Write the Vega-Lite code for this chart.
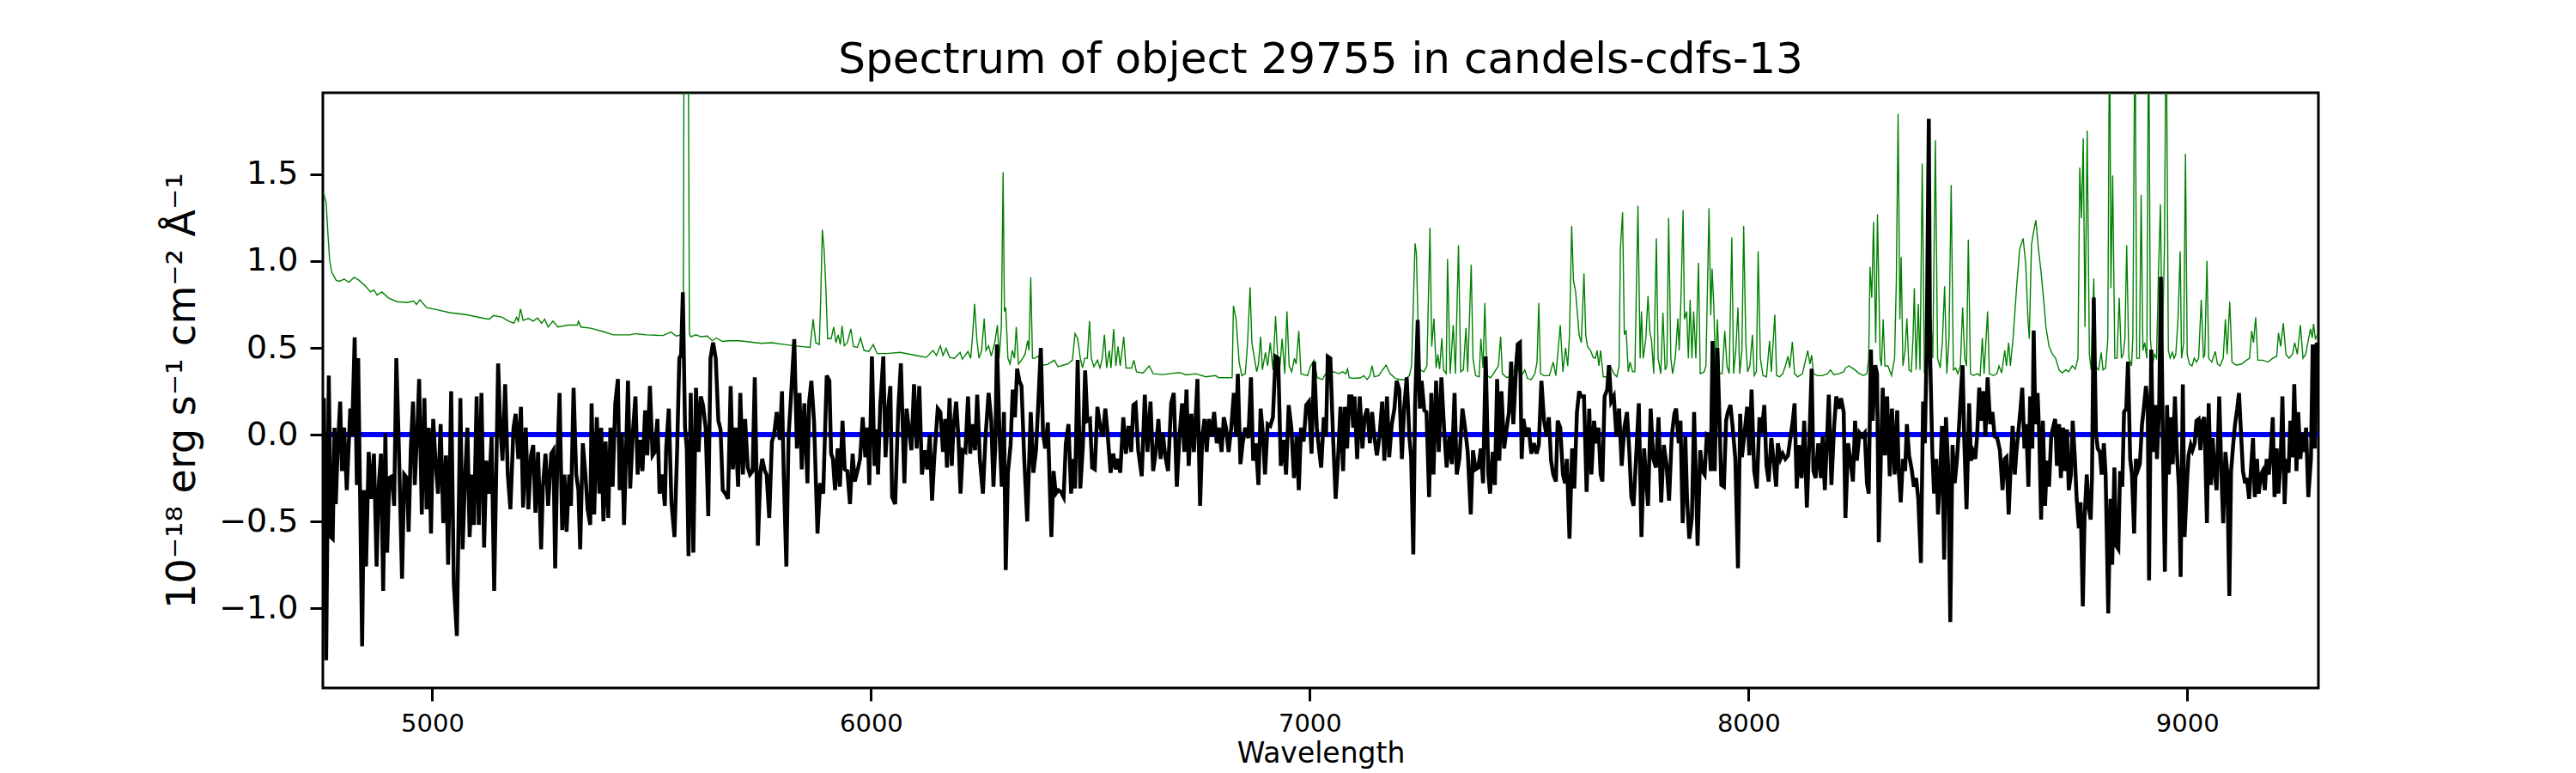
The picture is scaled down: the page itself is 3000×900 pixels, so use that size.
{
  "$schema": "https://vega.github.io/schema/vega-lite/v6.json",
  "width": 2324,
  "height": 693,
  "autosize": {"type": "none"},
  "padding": {"left": 376, "top": 108, "right": 300, "bottom": 99},
  "background": "white",
  "config": {
    "view": {"stroke": "black", "strokeWidth": 3},
    "axis": {"grid": false, "domain": false, "tickColor": "black", "tickWidth": 3, "tickSize": 15, "labelColor": "black", "titleColor": "black", "labelFont": "DejaVu Sans", "titleFont": "DejaVu Sans", "titleFontWeight": "normal"}
  },
  "title": {"text": "Spectrum of object 29755 in candels-cdfs-13", "font": "DejaVu Sans", "fontSize": 50, "fontWeight": "normal", "color": "black", "anchor": "middle", "offset": 13},
  "datasets": {
    "model": [{"wavelength": 4750.5, "value": 0}, {"wavelength": 9299, "value": 0}],
    "noise": [
      {"wavelength":4752,"value":1.393},{"wavelength":4758,"value":1.337},{"wavelength":4762,"value":1.158},{"wavelength":4766,"value":1.001},{"wavelength":4771,"value":0.934},{"wavelength":4781,"value":0.889},{"wavelength":4788,"value":0.884},{"wavelength":4799,"value":0.896},{"wavelength":4810,"value":0.878},{"wavelength":4822,"value":0.907},{"wavelength":4833,"value":0.889},{"wavelength":4848,"value":0.855},{"wavelength":4859,"value":0.822},{"wavelength":4867,"value":0.833},{"wavelength":4874,"value":0.804},{"wavelength":4885,"value":0.822},{"wavelength":4900,"value":0.788},{"wavelength":4919,"value":0.766},{"wavelength":4942,"value":0.761},{"wavelength":4957,"value":0.770},{"wavelength":4964,"value":0.750},{"wavelength":4972,"value":0.777},{"wavelength":4987,"value":0.732},{"wavelength":5009,"value":0.721},{"wavelength":5039,"value":0.703},{"wavelength":5076,"value":0.692},{"wavelength":5114,"value":0.672},{"wavelength":5129,"value":0.665},{"wavelength":5140,"value":0.687},{"wavelength":5159,"value":0.676},{"wavelength":5174,"value":0.654},{"wavelength":5186,"value":0.642},{"wavelength":5192,"value":0.676},{"wavelength":5196,"value":0.654},{"wavelength":5201,"value":0.725},{"wavelength":5207,"value":0.658},{"wavelength":5219,"value":0.669},{"wavelength":5230,"value":0.654},{"wavelength":5240,"value":0.672},{"wavelength":5249,"value":0.642},{"wavelength":5256,"value":0.665},{"wavelength":5264,"value":0.620},{"wavelength":5275,"value":0.654},{"wavelength":5286,"value":0.620},{"wavelength":5309,"value":0.631},{"wavelength":5331,"value":0.631},{"wavelength":5333,"value":0.654},{"wavelength":5339,"value":0.620},{"wavelength":5361,"value":0.613},{"wavelength":5391,"value":0.593},{"wavelength":5413,"value":0.575},{"wavelength":5451,"value":0.575},{"wavelength":5462,"value":0.582},{"wavelength":5488,"value":0.575},{"wavelength":5526,"value":0.571},{"wavelength":5544,"value":0.591},{"wavelength":5556,"value":0.568},{"wavelength":5567,"value":0.575},{"wavelength":5572,"value":0.62},{"wavelength":5574,"value":2.6},{"wavelength":5583,"value":2.6},{"wavelength":5586,"value":0.58},{"wavelength":5589,"value":0.564},{"wavelength":5601,"value":0.575},{"wavelength":5612,"value":0.564},{"wavelength":5627,"value":0.568},{"wavelength":5638,"value":0.541},{"wavelength":5647,"value":0.557},{"wavelength":5661,"value":0.537},{"wavelength":5676,"value":0.541},{"wavelength":5698,"value":0.541},{"wavelength":5713,"value":0.537},{"wavelength":5750,"value":0.526},{"wavelength":5773,"value":0.530},{"wavelength":5803,"value":0.519},{"wavelength":5825,"value":0.512},{"wavelength":5861,"value":0.503},{"wavelength":5868,"value":0.665},{"wavelength":5874,"value":0.530},{"wavelength":5882,"value":0.519},{"wavelength":5885,"value":0.760},{"wavelength":5889,"value":1.180},{"wavelength":5893,"value":1.068},{"wavelength":5897,"value":0.844},{"wavelength":5901,"value":0.553},{"wavelength":5909,"value":0.553},
      {"wavelength":5915,"value":0.620},{"wavelength":5920,"value":0.530},{"wavelength":5925,"value":0.575},{"wavelength":5930,"value":0.519},{"wavelength":5934,"value":0.627},{"wavelength":5939,"value":0.512},{"wavelength":5946,"value":0.530},{"wavelength":5954,"value":0.609},{"wavelength":5960,"value":0.508},{"wavelength":5969,"value":0.503},{"wavelength":5976,"value":0.557},{"wavelength":5984,"value":0.485},{"wavelength":5995,"value":0.479},{"wavelength":6005,"value":0.519},{"wavelength":6014,"value":0.467},{"wavelength":6036,"value":0.467},{"wavelength":6066,"value":0.474},{"wavelength":6089,"value":0.463},{"wavelength":6111,"value":0.452},{"wavelength":6126,"value":0.445},{"wavelength":6141,"value":0.485},{"wavelength":6149,"value":0.456},{"wavelength":6158,"value":0.512},{"wavelength":6164,"value":0.456},{"wavelength":6171,"value":0.497},{"wavelength":6179,"value":0.445},{"wavelength":6190,"value":0.440},{"wavelength":6203,"value":0.474},{"wavelength":6208,"value":0.434},{"wavelength":6221,"value":0.479},{"wavelength":6227,"value":0.440},{"wavelength":6231,"value":0.553},{"wavelength":6236,"value":0.754},{"wavelength":6241,"value":0.553},{"wavelength":6246,"value":0.440},{"wavelength":6252,"value":0.485},{"wavelength":6258,"value":0.669},{"wavelength":6262,"value":0.485},{"wavelength":6268,"value":0.512},{"wavelength":6274,"value":0.452},{"wavelength":6282,"value":0.530},{"wavelength":6288,"value":0.631},{"wavelength":6292,"value":0.440},{"wavelength":6297,"value":0.620},{"wavelength":6301,"value":1.512},{"wavelength":6304,"value":0.710},{"wavelength":6307,"value":0.732},{"wavelength":6312,"value":0.440},{"wavelength":6317,"value":0.407},{"wavelength":6322,"value":0.485},{"wavelength":6327,"value":0.440},{"wavelength":6331,"value":0.620},{"wavelength":6336,"value":0.407},{"wavelength":6343,"value":0.429},{"wavelength":6351,"value":0.463},{"wavelength":6357,"value":0.541},{"wavelength":6360,"value":0.485},{"wavelength":6364,"value":0.907},{"wavelength":6368,"value":0.440},{"wavelength":6373,"value":0.440},{"wavelength":6381,"value":0.452},{"wavelength":6392,"value":0.400},{"wavelength":6403,"value":0.405},{"wavelength":6418,"value":0.429},{"wavelength":6426,"value":0.391},{"wavelength":6448,"value":0.407},{"wavelength":6459,"value":0.429},{"wavelength":6465,"value":0.582},{"wavelength":6471,"value":0.553},{"wavelength":6477,"value":0.440},{"wavelength":6482,"value":0.384},{"wavelength":6487,"value":0.440},{"wavelength":6493,"value":0.440},{"wavelength":6498,"value":0.654},{"wavelength":6502,"value":0.440},{"wavelength":6508,"value":0.391},{"wavelength":6516,"value":0.429},{"wavelength":6522,"value":0.384},{"wavelength":6527,"value":0.440},{"wavelength":6532,"value":0.575},{"wavelength":6537,"value":0.384},{"wavelength":6543,"value":0.485},{"wavelength":6547,"value":0.384},{"wavelength":6553,"value":0.609},{"wavelength":6558,"value":0.396},{"wavelength":6563,"value":0.508},{"wavelength":6568,"value":0.396},{"wavelength":6576,"value":0.564},{"wavelength":6581,"value":0.384},{"wavelength":6594,"value":0.384},{"wavelength":6599,"value":0.429},{"wavelength":6605,"value":0.362},{"wavelength":6620,"value":0.355},{"wavelength":6634,"value":0.396},{"wavelength":6643,"value":0.351},{"wavelength":6665,"value":0.346},{"wavelength":6680,"value":0.351},{"wavelength":6703,"value":0.358},{"wavelength":6718,"value":0.344},{"wavelength":6740,"value":0.351},{"wavelength":6763,"value":0.333},{"wavelength":6785,"value":0.340},{"wavelength":6793,"value":0.328},{"wavelength":6823,"value":0.328},{"wavelength":6826,"value":0.743},{"wavelength":6832,"value":0.665},{"wavelength":6839,"value":0.418},{"wavelength":6845,"value":0.340},{"wavelength":6853,"value":0.351},{"wavelength":6858,"value":0.519},{"wavelength":6864,"value":0.849},{"wavelength":6868,"value":0.530},{"wavelength":6874,"value":0.440},{"wavelength":6879,"value":0.362},{"wavelength":6883,"value":0.407},{"wavelength":6888,"value":0.564},{"wavelength":6892,"value":0.373},{"wavelength":6899,"value":0.474},{"wavelength":6904,"value":0.396},{"wavelength":6910,"value":0.530},{"wavelength":6916,"value":0.373},{"wavelength":6922,"value":0.683},{"wavelength":6928,"value":0.396},{"wavelength":6932,"value":0.396},{"wavelength":6937,"value":0.553},{"wavelength":6943,"value":0.351},{"wavelength":6948,"value":0.710},{"wavelength":6953,"value":0.396},{"wavelength":6959,"value":0.362},{"wavelength":6965,"value":0.440},{"wavelength":6969,"value":0.407},{"wavelength":6975,"value":0.597},{"wavelength":6980,"value":0.351},{"wavelength":6995,"value":0.340},{"wavelength":7002,"value":0.396},{"wavelength":7010,"value":0.429},{"wavelength":7017,"value":0.328},{"wavelength":7029,"value":0.317},{"wavelength":7036,"value":0.351},{"wavelength":7044,"value":0.355},{"wavelength":7055,"value":0.362},{"wavelength":7066,"value":0.351},
      {"wavelength":7075,"value":0.362},{"wavelength":7082,"value":0.351},{"wavelength":7086,"value":0.378},{"wavelength":7090,"value":0.328},{"wavelength":7101,"value":0.324},{"wavelength":7116,"value":0.328},{"wavelength":7123,"value":0.340},{"wavelength":7131,"value":0.317},{"wavelength":7137,"value":0.340},{"wavelength":7142,"value":0.396},{"wavelength":7147,"value":0.333},{"wavelength":7157,"value":0.340},{"wavelength":7165,"value":0.369},{"wavelength":7174,"value":0.400},{"wavelength":7183,"value":0.351},{"wavelength":7195,"value":0.324},{"wavelength":7206,"value":0.317},{"wavelength":7217,"value":0.317},{"wavelength":7227,"value":0.340},{"wavelength":7232,"value":0.396},{"wavelength":7240,"value":1.102},{"wavelength":7243,"value":1.046},{"wavelength":7247,"value":0.620},{"wavelength":7251,"value":0.373},{"wavelength":7260,"value":0.362},{"wavelength":7267,"value":0.396},{"wavelength":7274,"value":1.192},{"wavelength":7278,"value":0.508},{"wavelength":7283,"value":0.669},{"wavelength":7288,"value":0.384},{"wavelength":7292,"value":0.463},{"wavelength":7296,"value":0.378},{"wavelength":7301,"value":0.557},{"wavelength":7305,"value":0.373},{"wavelength":7311,"value":0.351},{"wavelength":7314,"value":1.012},{"wavelength":7320,"value":0.351},{"wavelength":7327,"value":0.631},{"wavelength":7332,"value":0.351},{"wavelength":7339,"value":1.091},{"wavelength":7344,"value":0.362},{"wavelength":7350,"value":0.373},{"wavelength":7356,"value":0.615},{"wavelength":7360,"value":0.362},{"wavelength":7368,"value":0.979},{"wavelength":7372,"value":0.440},{"wavelength":7378,"value":0.340},{"wavelength":7386,"value":0.333},{"wavelength":7390,"value":0.553},{"wavelength":7395,"value":0.384},{"wavelength":7399,"value":0.759},{"wavelength":7404,"value":0.340},{"wavelength":7412,"value":0.328},{"wavelength":7419,"value":0.351},{"wavelength":7424,"value":0.373},{"wavelength":7430,"value":0.396},{"wavelength":7435,"value":0.564},{"wavelength":7439,"value":0.351},{"wavelength":7449,"value":0.328},{"wavelength":7459,"value":0.340},{"wavelength":7466,"value":0.373},{"wavelength":7472,"value":0.519},{"wavelength":7475,"value":0.373},{"wavelength":7483,"value":0.340},{"wavelength":7490,"value":0.373},{"wavelength":7496,"value":0.324},{"wavelength":7505,"value":0.317},{"wavelength":7513,"value":0.351},{"wavelength":7518,"value":0.418},{"wavelength":7522,"value":0.759},{"wavelength":7526,"value":0.351},{"wavelength":7534,"value":0.340},{"wavelength":7546,"value":0.340},{"wavelength":7555,"value":0.418},{"wavelength":7561,"value":0.340},{"wavelength":7571,"value":0.631},{"wavelength":7577,"value":0.362},{"wavelength":7583,"value":0.501},{"wavelength":7588,"value":0.396},{"wavelength":7592,"value":0.575},{"wavelength":7597,"value":1.203},{"wavelength":7601,"value":0.889},{"wavelength":7606,"value":0.822},{"wavelength":7614,"value":0.575},{"wavelength":7619,"value":0.530},{"wavelength":7625,"value":0.929},{"wavelength":7629,"value":0.575},{"wavelength":7633,"value":0.508},{"wavelength":7640,"value":0.485},{"wavelength":7646,"value":0.445},{"wavelength":7651,"value":0.440},{"wavelength":7655,"value":0.485},{"wavelength":7659,"value":0.396},{"wavelength":7663,"value":0.485},{"wavelength":7669,"value":0.333},{"wavelength":7678,"value":0.333},{"wavelength":7685,"value":0.396},{"wavelength":7693,"value":0.351},{"wavelength":7700,"value":0.333},{"wavelength":7705,"value":0.396},{"wavelength":7708,"value":1.068},{"wavelength":7713,"value":1.281},{"wavelength":7717,"value":0.575},{"wavelength":7721,"value":0.602},{"wavelength":7726,"value":0.362},{"wavelength":7730,"value":0.418},{"wavelength":7736,"value":0.362},{"wavelength":7741,"value":0.362},{"wavelength":7748,"value":1.319},{"wavelength":7753,"value":0.440},{"wavelength":7756,"value":0.710},{"wavelength":7760,"value":0.440},{"wavelength":7766,"value":0.553},{"wavelength":7771,"value":0.799},{"wavelength":7775,"value":0.597},{"wavelength":7779,"value":0.541},{"wavelength":7784,"value":0.351},{"wavelength":7790,"value":1.131},{"wavelength":7794,"value":0.440},{"wavelength":7800,"value":0.351},{"wavelength":7805,"value":0.703},{"wavelength":7810,"value":0.373},{"wavelength":7814,"value":0.396},{"wavelength":7818,"value":1.248},{"wavelength":7823,"value":0.440},{"wavelength":7827,"value":0.351},{"wavelength":7833,"value":0.440},{"wavelength":7839,"value":0.669},{"wavelength":7842,"value":0.485},{"wavelength":7846,"value":0.777},{"wavelength":7851,"value":1.293},{"wavelength":7854,"value":0.665},{"wavelength":7859,"value":0.710},{"wavelength":7863,"value":0.440},{"wavelength":7867,"value":0.777},{"wavelength":7871,"value":0.440},{"wavelength":7875,"value":0.710},{"wavelength":7880,"value":0.440},{"wavelength":7886,"value":0.990},{"wavelength":7890,"value":0.351},{"wavelength":7899,"value":0.362},{"wavelength":7903,"value":0.396},{"wavelength":7910,"value":1.304},{"wavelength":7914,"value":0.687},{"wavelength":7917,"value":0.956},{"wavelength":7921,"value":0.743},{"wavelength":7925,"value":0.351},{"wavelength":7929,"value":0.665},{"wavelength":7934,"value":0.351},{"wavelength":7940,"value":0.351},{"wavelength":7946,"value":0.597},{"wavelength":7951,"value":0.396},{"wavelength":7956,"value":0.351},{"wavelength":7962,"value":1.136},{"wavelength":7966,"value":0.351},{"wavelength":7971,"value":0.485},{"wavelength":7976,"value":0.732},{"wavelength":7980,"value":0.351},{"wavelength":7985,"value":0.485},{"wavelength":7989,"value":1.203},{"wavelength":7994,"value":0.519},{"wavelength":7998,"value":0.362},{"wavelength":8003,"value":0.396},{"wavelength":8009,"value":0.575},{"wavelength":8013,"value":0.340},{"wavelength":8018,"value":0.362},{"wavelength":8022,"value":1.057},{"wavelength":8027,"value":0.440},{"wavelength":8033,"value":0.340},{"wavelength":8041,"value":0.333},{"wavelength":8048,"value":0.541},{"wavelength":8052,"value":0.362},{"wavelength":8060,"value":0.692},{"wavelength":8064,"value":0.340},{"wavelength":8071,"value":0.333},{"wavelength":8078,"value":0.351},{"wavelength":8084,"value":0.396},{"wavelength":8090,"value":0.452},{"wavelength":8094,"value":0.384},{"wavelength":8100,"value":0.535},{"wavelength":8105,"value":0.351},{"wavelength":8112,"value":0.333},{"wavelength":8123,"value":0.351},{"wavelength":8135,"value":0.485},{"wavelength":8140,"value":0.407},{"wavelength":8144,"value":0.458},{"wavelength":8148,"value":0.351},{"wavelength":8157,"value":0.340},{"wavelength":8168,"value":0.340},{"wavelength":8180,"value":0.351},{"wavelength":8187,"value":0.373},{"wavelength":8194,"value":0.346},{"wavelength":8206,"value":0.351},{"wavelength":8217,"value":0.362},
      {"wavelength":8221,"value":0.384},{"wavelength":8229,"value":0.396},{"wavelength":8240,"value":0.378},{"wavelength":8251,"value":0.355},{"wavelength":8262,"value":0.340},{"wavelength":8270,"value":0.351},{"wavelength":8274,"value":0.440},{"wavelength":8277,"value":0.967},{"wavelength":8281,"value":0.788},{"wavelength":8285,"value":1.225},{"wavelength":8290,"value":0.530},{"wavelength":8294,"value":1.270},{"wavelength":8300,"value":0.440},{"wavelength":8303,"value":0.396},{"wavelength":8307,"value":0.665},{"wavelength":8311,"value":0.396},{"wavelength":8318,"value":0.396},{"wavelength":8326,"value":0.340},{"wavelength":8333,"value":0.440},{"wavelength":8337,"value":0.889},{"wavelength":8341,"value":1.849},{"wavelength":8345,"value":0.665},{"wavelength":8348,"value":1.023},{"wavelength":8352,"value":0.396},{"wavelength":8357,"value":0.485},{"wavelength":8361,"value":0.669},{"wavelength":8366,"value":0.373},{"wavelength":8371,"value":0.362},{"wavelength":8375,"value":0.553},{"wavelength":8378,"value":0.844},{"wavelength":8382,"value":0.373},{"wavelength":8387,"value":0.754},{"wavelength":8391,"value":0.373},{"wavelength":8396,"value":1.562},{"wavelength":8401,"value":0.351},{"wavelength":8408,"value":0.440},{"wavelength":8416,"value":0.665},{"wavelength":8420,"value":0.440},{"wavelength":8426,"value":1.696},{"wavelength":8431,"value":0.440},{"wavelength":8437,"value":0.384},{"wavelength":8442,"value":0.541},{"wavelength":8447,"value":0.855},{"wavelength":8452,"value":0.351},{"wavelength":8457,"value":0.553},{"wavelength":8462,"value":1.438},{"wavelength":8467,"value":0.373},{"wavelength":8472,"value":0.384},{"wavelength":8477,"value":0.351},{"wavelength":8483,"value":0.396},{"wavelength":8488,"value":0.732},{"wavelength":8493,"value":0.440},{"wavelength":8497,"value":0.396},{"wavelength":8501,"value":1.124},{"wavelength":8506,"value":0.351},{"wavelength":8513,"value":0.340},{"wavelength":8522,"value":0.351},{"wavelength":8528,"value":0.340},{"wavelength":8533,"value":0.557},{"wavelength":8537,"value":0.351},{"wavelength":8545,"value":0.710},{"wavelength":8549,"value":0.351},{"wavelength":8558,"value":0.340},{"wavelength":8566,"value":0.351},{"wavelength":8571,"value":0.396},{"wavelength":8577,"value":0.355},{"wavelength":8584,"value":0.485},{"wavelength":8588,"value":0.396},{"wavelength":8593,"value":0.530},{"wavelength":8597,"value":0.396},{"wavelength":8603,"value":0.553},{"wavelength":8611,"value":0.844},{"wavelength":8618,"value":1.068},{"wavelength":8626,"value":1.131},{"wavelength":8632,"value":0.979},{"wavelength":8637,"value":0.665},{"wavelength":8640,"value":0.553},{"wavelength":8645,"value":1.091},{"wavelength":8649,"value":1.158},{"wavelength":8655,"value":1.236},{"wavelength":8661,"value":1.068},{"wavelength":8667,"value":0.934},{"wavelength":8672,"value":0.799},{"wavelength":8678,"value":0.620},{"wavelength":8685,"value":0.508},{"wavelength":8693,"value":0.463},{"wavelength":8700,"value":0.440},{"wavelength":8708,"value":0.373},{"wavelength":8715,"value":0.355},{"wavelength":8723,"value":0.373},{"wavelength":8730,"value":0.362},{"wavelength":8738,"value":0.396},{"wavelength":8745,"value":0.378},{"wavelength":8751,"value":0.440},{"wavelength":8755,"value":1.539},{"wavelength":8759,"value":1.248},{"wavelength":8763,"value":1.707},{"wavelength":8767,"value":0.620},{"wavelength":8772,"value":1.752},{"wavelength":8777,"value":0.463},{"wavelength":8781,"value":0.373},{"wavelength":8787,"value":0.900},{"wavelength":8790,"value":0.396},{"wavelength":8798,"value":0.373},{"wavelength":8804,"value":0.474},{"wavelength":8808,"value":0.373},{"wavelength":8814,"value":0.384},{"wavelength":8819,"value":0.553},{"wavelength":8823,"value":2.5},{"wavelength":8826,"value":0.844},{"wavelength":8830,"value":1.494},{"wavelength":8835,"value":0.440},{"wavelength":8840,"value":0.440},{"wavelength":8845,"value":0.788},{"wavelength":8850,"value":0.440},{"wavelength":8854,"value":0.463},{"wavelength":8858,"value":0.553},{"wavelength":8862,"value":1.091},{"wavelength":8867,"value":0.440},{"wavelength":8873,"value":0.396},{"wavelength":8876,"value":0.553},{"wavelength":8881,"value":2.5},{"wavelength":8885,"value":0.440},{"wavelength":8891,"value":0.440},{"wavelength":8895,"value":1.382},{"wavelength":8899,"value":0.485},{"wavelength":8903,"value":0.530},{"wavelength":8908,"value":0.440},{"wavelength":8912,"value":2.5},{"wavelength":8916,"value":0.553},{"wavelength":8921,"value":0.396},{"wavelength":8925,"value":0.463},{"wavelength":8930,"value":0.440},{"wavelength":8934,"value":0.889},{"wavelength":8939,"value":1.326},{"wavelength":8943,"value":0.463},{"wavelength":8948,"value":1.068},{"wavelength":8952,"value":2.5},{"wavelength":8957,"value":0.485},{"wavelength":8961,"value":0.440},{"wavelength":8966,"value":0.474},{"wavelength":8970,"value":0.440},{"wavelength":8974,"value":0.463},{"wavelength":8979,"value":0.665},{"wavelength":8984,"value":1.057},{"wavelength":8987,"value":0.440},{"wavelength":8992,"value":0.530},{"wavelength":8996,"value":1.618},{"wavelength":9000,"value":0.463},{"wavelength":9005,"value":0.407},{"wavelength":9011,"value":0.396},{"wavelength":9016,"value":0.440},{"wavelength":9021,"value":0.418},{"wavelength":9026,"value":0.440},{"wavelength":9032,"value":0.777},{"wavelength":9037,"value":0.440},{"wavelength":9040,"value":0.463},{"wavelength":9045,"value":1.001},{"wavelength":9049,"value":0.440},{"wavelength":9056,"value":0.418},{"wavelength":9064,"value":0.479},{"wavelength":9069,"value":0.407},{"wavelength":9075,"value":0.396},{"wavelength":9082,"value":0.440},{"wavelength":9087,"value":0.665},{"wavelength":9091,"value":0.463},{"wavelength":9097,"value":0.766},{"wavelength":9102,"value":0.418},{"wavelength":9112,"value":0.400},{"wavelength":9124,"value":0.407},{"wavelength":9135,"value":0.429},{"wavelength":9142,"value":0.440},{"wavelength":9147,"value":0.597},{"wavelength":9151,"value":0.530},{"wavelength":9156,"value":0.676},{"wavelength":9161,"value":0.429},{"wavelength":9172,"value":0.429},{"wavelength":9184,"value":0.418},{"wavelength":9195,"value":0.440},{"wavelength":9204,"value":0.452},{"wavelength":9208,"value":0.586},{"wavelength":9213,"value":0.508},{"wavelength":9219,"value":0.642},{"wavelength":9225,"value":0.463},{"wavelength":9232,"value":0.440},{"wavelength":9240,"value":0.463},{"wavelength":9245,"value":0.530},{"wavelength":9251,"value":0.463},{"wavelength":9258,"value":0.631},{"wavelength":9264,"value":0.440},{"wavelength":9270,"value":0.463},{"wavelength":9275,"value":0.530},{"wavelength":9281,"value":0.609},{"wavelength":9285,"value":0.557},{"wavelength":9288,"value":0.638},{"wavelength":9292,"value":0.553},{"wavelength":9297,"value":0.575}
    ],
    "flux": [
      {"wavelength":4751,"value":0.10},{"wavelength":4753,"value":0.21},{"wavelength":4758,"value":-1.30},{"wavelength":4764,"value":0.34},{"wavelength":4769,"value":-0.59},{"wavelength":4773,"value":-0.60},{"wavelength":4777,"value":0.04},{"wavelength":4780,"value":-0.40},{"wavelength":4784,"value":-0.10},{"wavelength":4790,"value":0.19},{"wavelength":4794,"value":-0.21},{"wavelength":4799,"value":0.04},{"wavelength":4805,"value":-0.32},{"wavelength":4813,"value":0.15},{"wavelength":4817,"value":-0.01},{"wavelength":4823,"value":0.56},{"wavelength":4828,"value":-0.29},{"wavelength":4831,"value":0.44},{"wavelength":4835,"value":-0.28},{"wavelength":4840,"value":-1.22},{"wavelength":4844,"value":-0.32},{"wavelength":4849,"value":-0.76},{"wavelength":4855,"value":-0.10},{"wavelength":4861,"value":-0.37},{"wavelength":4867,"value":-0.11},{"wavelength":4873,"value":-0.76},{"wavelength":4878,"value":-0.29},{"wavelength":4883,"value":-0.11},{"wavelength":4888,"value":-0.90},{"wavelength":4893,"value":0.01},{"wavelength":4897,"value":-0.68},{"wavelength":4902,"value":-0.25},{"wavelength":4908,"value":-0.24},{"wavelength":4913,"value":-0.41},{"wavelength":4918,"value":0.44},{"wavelength":4924,"value":-0.10},{"wavelength":4931,"value":-0.83},{"wavelength":4936,"value":-0.23},{"wavelength":4942,"value":-0.25},{"wavelength":4946,"value":-0.56},{"wavelength":4951,"value":-0.08},{"wavelength":4956,"value":0.19},{"wavelength":4960,"value":-0.29},{"wavelength":4966,"value":0.04},{"wavelength":4970,"value":0.32},{"wavelength":4976,"value":-0.46},{"wavelength":4982,"value":0.21},{"wavelength":4987,"value":-0.43},{"wavelength":4992,"value":0.04},{"wavelength":4997,"value":-0.57},{"wavelength":5002,"value":0.09},{"wavelength":5007,"value":-0.14},{"wavelength":5013,"value":-0.34},{"wavelength":5019,"value":0.06},{"wavelength":5025,"value":-0.51},{"wavelength":5031,"value":-0.12},{"wavelength":5036,"value":-0.75},{"wavelength":5043,"value":0.25},{"wavelength":5049,"value":-0.86},{"wavelength":5056,"value":-1.16},{"wavelength":5064,"value":0.21},{"wavelength":5069,"value":-0.66},{"wavelength":5075,"value":-0.23},{"wavelength":5080,"value":0.04},{"wavelength":5085,"value":-0.59},{"wavelength":5091,"value":-0.23},{"wavelength":5095,"value":-0.52},{"wavelength":5101,"value":0.22},{"wavelength":5106,"value":-0.52},{"wavelength":5112,"value":0.24},{"wavelength":5118,"value":-0.65},{"wavelength":5123,"value":-0.15},{"wavelength":5129,"value":-0.34},{"wavelength":5135,"value":-0.01},{"wavelength":5141,"value":-0.90},{"wavelength":5150,"value":0.41},{"wavelength":5155,"value":0.04},{"wavelength":5160,"value":-0.15},{"wavelength":5166,"value":0.29},{"wavelength":5172,"value":-0.23},{"wavelength":5178,"value":-0.43},{"wavelength":5185,"value":0.04},{"wavelength":5190,"value":0.12},{"wavelength":5196,"value":-0.14},{"wavelength":5202,"value":0.16},{"wavelength":5207,"value":-0.42},{"wavelength":5213,"value":0.04},{"wavelength":5219,"value":-0.43},{"wavelength":5225,"value":-0.12},{"wavelength":5230,"value":-0.06},{"wavelength":5235,"value":-0.45},{"wavelength":5241,"value":-0.10},{"wavelength":5248,"value":-0.66},{"wavelength":5252,"value":-0.30},{"wavelength":5258,"value":-0.11},{"wavelength":5264,"value":-0.41},{"wavelength":5271,"value":-0.11},{"wavelength":5276,"value":-0.09},{"wavelength":5280,"value":-0.77},{"wavelength":5285,"value":-0.14},{"wavelength":5290,"value":0.24},{"wavelength":5296,"value":-0.55},{"wavelength":5301,"value":-0.23},{"wavelength":5306,"value":-0.56},{"wavelength":5312,"value":-0.23},{"wavelength":5316,"value":-0.41},{"wavelength":5322,"value":0.27},{"wavelength":5328,"value":-0.23},{"wavelength":5333,"value":-0.32},{"wavelength":5337,"value":-0.66},{"wavelength":5343,"value":-0.05},{"wavelength":5349,"value":-0.23},{"wavelength":5354,"value":-0.43},{"wavelength":5360,"value":-0.52},{"wavelength":5363,"value":0.18},{"wavelength":5369,"value":-0.46},{"wavelength":5375,"value":0.10},{"wavelength":5381,"value":-0.34},{"wavelength":5385,"value":0.04},{"wavelength":5390,"value":-0.50},{"wavelength":5395,"value":-0.04},{"wavelength":5401,"value":-0.48},{"wavelength":5406,"value":0.04},{"wavelength":5411,"value":-0.30},{"wavelength":5417,"value":0.18},{"wavelength":5423,"value":0.32},{"wavelength":5427,"value":-0.32},{"wavelength":5432,"value":0.01},{"wavelength":5437,"value":-0.52},{"wavelength":5446,"value":0.31},{"wavelength":5451,"value":-0.31},{"wavelength":5457,"value":0.01},{"wavelength":5463,"value":0.22},{"wavelength":5468,"value":-0.23},{"wavelength":5473,"value":-0.03},{"wavelength":5479,"value":-0.21},{"wavelength":5485,"value":0.14},{"wavelength":5490,"value":-0.12},{"wavelength":5496,"value":0.28},{"wavelength":5502,"value":-0.12},{"wavelength":5507,"value":-0.10},{"wavelength":5513,"value":0.09},{"wavelength":5518,"value":-0.34},{"wavelength":5524,"value":-0.23},{"wavelength":5530,"value":-0.41},{"wavelength":5533,"value":-0.08},{"wavelength":5539,"value":0.15},{"wavelength":5545,"value":-0.39},{"wavelength":5552,"value":-0.59},{"wavelength":5558,"value":-0.09},{"wavelength":5563,"value":0.44},{"wavelength":5567,"value":0.46},{"wavelength":5571,"value":0.82},{"wavelength":5576,"value":0.04},{"wavelength":5580,"value":-0.08},{"wavelength":5584,"value":-0.70},{"wavelength":5589,"value":0.24},{"wavelength":5595,"value":-0.68},{"wavelength":5601,"value":0.27},{"wavelength":5607,"value":-0.10},{"wavelength":5612,"value":0.22},{"wavelength":5617,"value":0.17},{"wavelength":5623,"value":0.04},{"wavelength":5629,"value":-0.47},{"wavelength":5634,"value":0.44},{"wavelength":5640,"value":0.53},{"wavelength":5646,"value":0.44},{"wavelength":5652,"value":0.08},{"wavelength":5657,"value":0.03},{"wavelength":5662,"value":-0.32},{"wavelength":5668,"value":-0.34},{"wavelength":5674,"value":-0.37},{"wavelength":5680,"value":0.28},{"wavelength":5685,"value":-0.20},{"wavelength":5691,"value":0.04},{"wavelength":5697,"value":-0.30},{"wavelength":5702,"value":0.24},{"wavelength":5708,"value":-0.23},{"wavelength":5713,"value":0.09},{"wavelength":5719,"value":-0.19},{"wavelength":5724,"value":-0.23},{"wavelength":5730,"value":-0.21},{"wavelength":5735,"value":0.33},{"wavelength":5742,"value":-0.64},{"wavelength":5748,"value":-0.21},{"wavelength":5752,"value":-0.14},{"wavelength":5758,"value":-0.21},{"wavelength":5762,"value":-0.23},{"wavelength":5768,"value":-0.48},{"wavelength":5774,"value":-0.04},{"wavelength":5779,"value":0.00},{"wavelength":5785,"value":0.13},{"wavelength":5792,"value":-0.03},{"wavelength":5797,"value":0.25},{"wavelength":5801,"value":-0.23},{"wavelength":5807,"value":-0.76},{"wavelength":5812,"value":-0.01},{"wavelength":5818,"value":0.24},{"wavelength":5825,"value":0.55},{"wavelength":5831,"value":-0.08},{"wavelength":5837,"value":0.24},{"wavelength":5842,"value":-0.20},{"wavelength":5848,"value":0.18},{"wavelength":5855,"value":-0.28},{"wavelength":5859,"value":0.19},{"wavelength":5864,"value":0.31},{"wavelength":5870,"value":0.08},{"wavelength":5878,"value":-0.57},{"wavelength":5884,"value":-0.28},{"wavelength":5891,"value":-0.34},{"wavelength":5899,"value":0.34},{"wavelength":5905,"value":0.31},{"wavelength":5909,"value":-0.11},
      {"wavelength":5913,"value":-0.14},{"wavelength":5918,"value":-0.32},{"wavelength":5924,"value":-0.08},{"wavelength":5929,"value":-0.30},{"wavelength":5935,"value":0.08},{"wavelength":5940,"value":-0.20},{"wavelength":5946,"value":-0.21},{"wavelength":5952,"value":-0.40},{"wavelength":5958,"value":-0.11},{"wavelength":5963,"value":-0.27},{"wavelength":5969,"value":-0.21},{"wavelength":5975,"value":-0.14},{"wavelength":5981,"value":0.10},{"wavelength":5987,"value":-0.13},{"wavelength":5992,"value":0.04},{"wavelength":5996,"value":-0.29},{"wavelength":6002,"value":0.45},{"wavelength":6008,"value":-0.18},{"wavelength":6012,"value":0.03},{"wavelength":6016,"value":-0.23},{"wavelength":6021,"value":0.17},{"wavelength":6028,"value":0.45},{"wavelength":6033,"value":-0.13},{"wavelength":6039,"value":0.15},{"wavelength":6044,"value":0.28},{"wavelength":6048,"value":-0.36},{"wavelength":6055,"value":-0.40},{"wavelength":6062,"value":0.14},{"wavelength":6068,"value":0.41},{"wavelength":6076,"value":-0.28},{"wavelength":6081,"value":0.15},{"wavelength":6086,"value":0.04},{"wavelength":6092,"value":-0.09},{"wavelength":6098,"value":0.29},{"wavelength":6104,"value":-0.08},{"wavelength":6110,"value":0.28},{"wavelength":6116,"value":-0.23},{"wavelength":6122,"value":-0.09},{"wavelength":6128,"value":-0.20},{"wavelength":6134,"value":0.00},{"wavelength":6139,"value":-0.38},{"wavelength":6144,"value":-0.14},{"wavelength":6152,"value":0.15},{"wavelength":6158,"value":0.13},{"wavelength":6164,"value":-0.10},{"wavelength":6169,"value":0.09},{"wavelength":6173,"value":-0.19},{"wavelength":6179,"value":0.21},{"wavelength":6184,"value":-0.18},{"wavelength":6188,"value":0.04},{"wavelength":6194,"value":0.19},{"wavelength":6199,"value":-0.01},{"wavelength":6204,"value":-0.34},{"wavelength":6209,"value":-0.09},{"wavelength":6215,"value":-0.10},{"wavelength":6221,"value":0.22},{"wavelength":6226,"value":-0.11},{"wavelength":6231,"value":0.06},{"wavelength":6237,"value":-0.09},{"wavelength":6242,"value":0.23},{"wavelength":6248,"value":-0.14},{"wavelength":6255,"value":-0.34},{"wavelength":6261,"value":-0.01},{"wavelength":6268,"value":0.24},{"wavelength":6274,"value":0.08},{"wavelength":6279,"value":-0.30},{"wavelength":6283,"value":-0.08},{"wavelength":6287,"value":0.52},{"wavelength":6293,"value":-0.01},{"wavelength":6298,"value":-0.30},{"wavelength":6303,"value":0.13},{"wavelength":6307,"value":-0.78},{"wavelength":6312,"value":-0.22},{"wavelength":6318,"value":-0.06},{"wavelength":6323,"value":0.26},{"wavelength":6328,"value":0.10},{"wavelength":6333,"value":0.38},{"wavelength":6338,"value":0.31},{"wavelength":6343,"value":0.28},{"wavelength":6349,"value":-0.13},{"wavelength":6356,"value":-0.50},{"wavelength":6364,"value":0.13},{"wavelength":6370,"value":-0.22},{"wavelength":6376,"value":-0.09},{"wavelength":6381,"value":0.17},{"wavelength":6387,"value":0.50},{"wavelength":6392,"value":0.01},{"wavelength":6397,"value":-0.08},{"wavelength":6403,"value":0.07},{"wavelength":6411,"value":-0.59},{"wavelength":6416,"value":-0.21},{"wavelength":6421,"value":-0.34},{"wavelength":6427,"value":-0.32},{"wavelength":6433,"value":-0.33},{"wavelength":6439,"value":-0.36},{"wavelength":6444,"value":-0.05},{"wavelength":6450,"value":0.06},{"wavelength":6456,"value":-0.34},{"wavelength":6461,"value":-0.14},{"wavelength":6465,"value":-0.31},{"wavelength":6471,"value":0.43},{"wavelength":6477,"value":-0.31},{"wavelength":6483,"value":-0.06},{"wavelength":6488,"value":0.37},{"wavelength":6493,"value":0.08},{"wavelength":6499,"value":0.09},{"wavelength":6504,"value":-0.19},{"wavelength":6510,"value":-0.20},{"wavelength":6516,"value":0.16},{"wavelength":6522,"value":0.05},{"wavelength":6528,"value":-0.01},{"wavelength":6534,"value":0.15},{"wavelength":6540,"value":-0.02},{"wavelength":6546,"value":-0.22},{"wavelength":6552,"value":-0.11},{"wavelength":6558,"value":-0.20},{"wavelength":6563,"value":-0.14},{"wavelength":6568,"value":-0.22},{"wavelength":6575,"value":0.10},{"wavelength":6581,"value":-0.11},{"wavelength":6587,"value":0.05},{"wavelength":6593,"value":-0.10},{"wavelength":6598,"value":0.17},{"wavelength":6603,"value":0.18},{"wavelength":6609,"value":-0.09},{"wavelength":6617,"value":-0.24},{"wavelength":6624,"value":0.23},{"wavelength":6630,"value":-0.10},{"wavelength":6637,"value":0.19},{"wavelength":6643,"value":-0.21},{"wavelength":6649,"value":-0.10},{"wavelength":6655,"value":0.09},{"wavelength":6660,"value":-0.14},{"wavelength":6665,"value":0.01},{"wavelength":6671,"value":-0.13},{"wavelength":6677,"value":-0.21},{"wavelength":6684,"value":0.18},{"wavelength":6690,"value":0.24},{"wavelength":6697,"value":-0.30},{"wavelength":6703,"value":-0.01},{"wavelength":6709,"value":0.18},{"wavelength":6714,"value":-0.10},{"wavelength":6719,"value":0.26},{"wavelength":6724,"value":-0.18},{"wavelength":6730,"value":0.12},{"wavelength":6736,"value":-0.10},{"wavelength":6744,"value":0.32},{"wavelength":6750,"value":-0.41},{"wavelength":6755,"value":-0.01},{"wavelength":6760,"value":0.09},{"wavelength":6765,"value":-0.10},{"wavelength":6770,"value":0.09},{"wavelength":6776,"value":-0.01},{"wavelength":6782,"value":0.13},{"wavelength":6788,"value":-0.05},{"wavelength":6793,"value":0.04},{"wavelength":6799,"value":-0.10},{"wavelength":6804,"value":0.10},{"wavelength":6809,"value":0.04},{"wavelength":6815,"value":-0.10},{"wavelength":6821,"value":0.04},{"wavelength":6827,"value":0.24},{"wavelength":6832,"value":-0.01},{"wavelength":6836,"value":0.35},{"wavelength":6842,"value":-0.17},{"wavelength":6847,"value":-0.05},{"wavelength":6853,"value":0.04},{"wavelength":6860,"value":-0.02},{"wavelength":6866,"value":0.33},{"wavelength":6871,"value":-0.15},{"wavelength":6877,"value":-0.05},{"wavelength":6883,"value":-0.29},{"wavelength":6888,"value":0.15},{"wavelength":6893,"value":0.01},{"wavelength":6898,"value":-0.23},{"wavelength":6904,"value":0.06},{"wavelength":6910,"value":0.05},{"wavelength":6916,"value":0.10},{"wavelength":6922,"value":0.45},{"wavelength":6928,"value":0.44},{"wavelength":6934,"value":-0.18},{"wavelength":6940,"value":-0.03},{"wavelength":6946,"value":-0.23},{"wavelength":6952,"value":0.17},{"wavelength":6958,"value":0.04},{"wavelength":6964,"value":-0.25},{"wavelength":6970,"value":-0.01},{"wavelength":6975,"value":-0.32},{"wavelength":6980,"value":0.04},{"wavelength":6986,"value":-0.04},{"wavelength":6992,"value":0.17},{"wavelength":6998,"value":0.19},{"wavelength":7004,"value":-0.11},{"wavelength":7010,"value":0.42},{"wavelength":7016,"value":0.04},{"wavelength":7021,"value":-0.08},{"wavelength":7026,"value":-0.19},{"wavelength":7032,"value":0.10},{"wavelength":7037,"value":-0.01},{"wavelength":7041,"value":0.45},{"wavelength":7047,"value":0.44},{"wavelength":7053,"value":-0.01},{"wavelength":7059,"value":-0.37},{"wavelength":7064,"value":-0.16},
      {"wavelength":7070,"value":0.16},{"wavelength":7076,"value":-0.21},{"wavelength":7080,"value":0.16},{"wavelength":7085,"value":-0.08},{"wavelength":7090,"value":0.22},{"wavelength":7095,"value":0.22},{"wavelength":7099,"value":0.04},{"wavelength":7102,"value":0.22},{"wavelength":7108,"value":-0.14},{"wavelength":7114,"value":0.22},{"wavelength":7120,"value":-0.08},{"wavelength":7125,"value":0.10},{"wavelength":7131,"value":0.15},{"wavelength":7137,"value":-0.05},{"wavelength":7142,"value":0.13},{"wavelength":7147,"value":-0.01},{"wavelength":7153,"value":-0.12},{"wavelength":7159,"value":-0.01},{"wavelength":7165,"value":0.19},{"wavelength":7170,"value":-0.15},{"wavelength":7176,"value":0.22},{"wavelength":7181,"value":-0.13},{"wavelength":7187,"value":0.06},{"wavelength":7193,"value":0.15},{"wavelength":7198,"value":0.31},{"wavelength":7204,"value":0.26},{"wavelength":7210,"value":-0.14},{"wavelength":7215,"value":0.15},{"wavelength":7221,"value":0.33},{"wavelength":7227,"value":-0.01},{"wavelength":7231,"value":-0.13},{"wavelength":7236,"value":-0.69},{"wavelength":7240,"value":0.17},{"wavelength":7246,"value":0.66},{"wavelength":7251,"value":0.15},{"wavelength":7255,"value":0.31},{"wavelength":7261,"value":0.14},{"wavelength":7266,"value":0.13},{"wavelength":7272,"value":-0.36},{"wavelength":7277,"value":0.24},{"wavelength":7282,"value":-0.23},{"wavelength":7288,"value":0.31},{"wavelength":7294,"value":-0.10},{"wavelength":7300,"value":0.33},{"wavelength":7306,"value":0.04},{"wavelength":7312,"value":-0.19},{"wavelength":7318,"value":-0.01},{"wavelength":7324,"value":-0.17},{"wavelength":7330,"value":0.24},{"wavelength":7335,"value":-0.23},{"wavelength":7341,"value":-0.14},{"wavelength":7348,"value":0.15},{"wavelength":7354,"value":0.04},{"wavelength":7360,"value":-0.10},{"wavelength":7367,"value":-0.46},{"wavelength":7372,"value":-0.09},{"wavelength":7378,"value":-0.20},{"wavelength":7384,"value":-0.19},{"wavelength":7390,"value":-0.08},{"wavelength":7395,"value":-0.28},{"wavelength":7401,"value":0.45},{"wavelength":7407,"value":-0.23},{"wavelength":7411,"value":-0.34},{"wavelength":7417,"value":-0.10},{"wavelength":7422,"value":-0.29},{"wavelength":7427,"value":0.32},{"wavelength":7432,"value":-0.15},{"wavelength":7437,"value":0.25},{"wavelength":7443,"value":-0.08},{"wavelength":7449,"value":0.04},{"wavelength":7454,"value":0.13},{"wavelength":7459,"value":0.42},{"wavelength":7464,"value":0.06},{"wavelength":7469,"value":0.32},{"wavelength":7474,"value":0.52},{"wavelength":7479,"value":0.53},{"wavelength":7483,"value":-0.14},{"wavelength":7487,"value":0.09},{"wavelength":7493,"value":-0.01},{"wavelength":7499,"value":0.04},{"wavelength":7505,"value":-0.11},{"wavelength":7511,"value":-0.05},{"wavelength":7517,"value":-0.11},{"wavelength":7522,"value":-0.06},{"wavelength":7528,"value":0.31},{"wavelength":7534,"value":0.08},{"wavelength":7540,"value":-0.01},{"wavelength":7545,"value":0.10},{"wavelength":7550,"value":-0.15},{"wavelength":7555,"value":-0.23},{"wavelength":7561,"value":-0.27},{"wavelength":7565,"value":0.08},{"wavelength":7571,"value":0.04},{"wavelength":7577,"value":-0.23},{"wavelength":7582,"value":-0.28},{"wavelength":7586,"value":-0.14},{"wavelength":7592,"value":-0.60},{"wavelength":7598,"value":-0.08},{"wavelength":7603,"value":-0.31},{"wavelength":7609,"value":0.13},{"wavelength":7614,"value":0.25},{"wavelength":7619,"value":0.22},{"wavelength":7625,"value":0.22},{"wavelength":7631,"value":-0.33},{"wavelength":7637,"value":0.15},{"wavelength":7642,"value":-0.23},{"wavelength":7648,"value":0.08},{"wavelength":7653,"value":-0.05},{"wavelength":7658,"value":0.04},{"wavelength":7663,"value":-0.23},{"wavelength":7667,"value":-0.27},{"wavelength":7672,"value":0.22},{"wavelength":7678,"value":0.26},{"wavelength":7682,"value":0.40},{"wavelength":7687,"value":0.19},{"wavelength":7693,"value":0.22},{"wavelength":7699,"value":-0.01},{"wavelength":7705,"value":0.15},{"wavelength":7711,"value":-0.18},{"wavelength":7717,"value":0.04},{"wavelength":7723,"value":0.13},{"wavelength":7728,"value":-0.08},{"wavelength":7733,"value":-0.36},{"wavelength":7738,"value":-0.41},{"wavelength":7744,"value":-0.12},{"wavelength":7750,"value":0.18},{"wavelength":7756,"value":-0.59},{"wavelength":7762,"value":-0.08},{"wavelength":7766,"value":-0.23},{"wavelength":7771,"value":-0.41},{"wavelength":7777,"value":0.15},{"wavelength":7783,"value":-0.14},{"wavelength":7789,"value":-0.19},{"wavelength":7795,"value":0.10},{"wavelength":7801,"value":-0.39},{"wavelength":7807,"value":-0.06},{"wavelength":7813,"value":-0.17},{"wavelength":7819,"value":-0.38},{"wavelength":7825,"value":-0.01},{"wavelength":7831,"value":0.12},{"wavelength":7835,"value":0.15},{"wavelength":7841,"value":-0.05},{"wavelength":7845,"value":0.08},{"wavelength":7850,"value":-0.51},{"wavelength":7856,"value":-0.01},{"wavelength":7860,"value":-0.37},{"wavelength":7865,"value":-0.60},{"wavelength":7871,"value":-0.48},{"wavelength":7876,"value":0.13},{"wavelength":7880,"value":-0.24},{"wavelength":7884,"value":-0.64},{"wavelength":7890,"value":-0.09},{"wavelength":7895,"value":-0.21},{"wavelength":7900,"value":-0.23},{"wavelength":7905,"value":0.00},{"wavelength":7910,"value":-0.01},{"wavelength":7914,"value":-0.21},{"wavelength":7918,"value":0.54},{"wavelength":7923,"value":-0.21},{"wavelength":7929,"value":0.50},{"wavelength":7934,"value":0.08},{"wavelength":7938,"value":-0.29},{"wavelength":7944,"value":-0.30},{"wavelength":7949,"value":0.08},{"wavelength":7953,"value":0.13},{"wavelength":7959,"value":0.17},{"wavelength":7964,"value":0.04},{"wavelength":7970,"value":-0.14},{"wavelength":7976,"value":-0.77},{"wavelength":7981,"value":0.12},{"wavelength":7985,"value":-0.13},{"wavelength":7991,"value":0.01},{"wavelength":7997,"value":0.16},{"wavelength":8002,"value":-0.12},{"wavelength":8007,"value":0.26},{"wavelength":8013,"value":-0.21},{"wavelength":8019,"value":-0.31},{"wavelength":8025,"value":0.10},{"wavelength":8030,"value":0.01},{"wavelength":8036,"value":0.17},{"wavelength":8041,"value":-0.18},{"wavelength":8046,"value":-0.27},{"wavelength":8052,"value":-0.02},{"wavelength":8057,"value":-0.14},{"wavelength":8063,"value":-0.30},{"wavelength":8067,"value":-0.05},{"wavelength":8073,"value":-0.14},{"wavelength":8078,"value":-0.11},{"wavelength":8084,"value":-0.14},{"wavelength":8090,"value":-0.12},{"wavelength":8096,"value":-0.01},{"wavelength":8101,"value":0.08},{"wavelength":8105,"value":0.18},{"wavelength":8110,"value":-0.31},{"wavelength":8115,"value":-0.06},{"wavelength":8121,"value":-0.25},{"wavelength":8127,"value":0.08},{"wavelength":8133,"value":-0.42},{"wavelength":8138,"value":-0.08},{"wavelength":8144,"value":0.38},{"wavelength":8148,"value":-0.21},{"wavelength":8153,"value":-0.25},{"wavelength":8159,"value":-0.05},{"wavelength":8165,"value":-0.25},{"wavelength":8169,"value":-0.01},{"wavelength":8174,"value":-0.32},{"wavelength":8180,"value":0.04},{"wavelength":8183,"value":0.23},{"wavelength":8189,"value":-0.29},{"wavelength":8195,"value":0.04},{"wavelength":8200,"value":0.22},{"wavelength":8206,"value":0.15},{"wavelength":8211,"value":0.21},{"wavelength":8217,"value":0.13},
      {"wavelength":8221,"value":-0.48},{"wavelength":8227,"value":-0.05},{"wavelength":8232,"value":-0.14},{"wavelength":8238,"value":-0.27},{"wavelength":8243,"value":0.08},{"wavelength":8247,"value":-0.15},{"wavelength":8253,"value":0.01},{"wavelength":8259,"value":-0.01},{"wavelength":8265,"value":0.01},{"wavelength":8270,"value":-0.28},{"wavelength":8274,"value":-0.34},{"wavelength":8279,"value":0.49},{"wavelength":8283,"value":0.08},{"wavelength":8289,"value":0.40},{"wavelength":8293,"value":0.35},{"wavelength":8297,"value":-0.62},{"wavelength":8302,"value":-0.10},{"wavelength":8306,"value":0.27},{"wavelength":8311,"value":-0.12},{"wavelength":8316,"value":0.22},{"wavelength":8322,"value":-0.24},{"wavelength":8327,"value":0.15},{"wavelength":8333,"value":-0.23},{"wavelength":8339,"value":0.14},{"wavelength":8342,"value":-0.19},{"wavelength":8347,"value":-0.39},{"wavelength":8352,"value":-0.14},{"wavelength":8357,"value":-0.21},{"wavelength":8361,"value":0.06},{"wavelength":8366,"value":-0.12},{"wavelength":8372,"value":-0.20},{"wavelength":8377,"value":-0.30},{"wavelength":8382,"value":-0.25},{"wavelength":8387,"value":-0.37},{"wavelength":8393,"value":-0.74},{"wavelength":8398,"value":0.19},{"wavelength":8402,"value":-0.05},{"wavelength":8406,"value":0.49},{"wavelength":8411,"value":1.82},{"wavelength":8414,"value":0.46},{"wavelength":8419,"value":-0.10},{"wavelength":8423,"value":-0.34},{"wavelength":8428,"value":-0.14},{"wavelength":8432,"value":-0.46},{"wavelength":8437,"value":-0.23},{"wavelength":8441,"value":0.05},{"wavelength":8446,"value":-0.72},{"wavelength":8450,"value":0.10},{"wavelength":8455,"value":-0.18},{"wavelength":8460,"value":-1.08},{"wavelength":8465,"value":-0.06},{"wavelength":8470,"value":-0.28},{"wavelength":8475,"value":-0.15},{"wavelength":8480,"value":0.05},{"wavelength":8484,"value":0.24},{"wavelength":8488,"value":0.40},{"wavelength":8492,"value":-0.05},{"wavelength":8497,"value":-0.43},{"wavelength":8503,"value":0.18},{"wavelength":8507,"value":-0.15},{"wavelength":8512,"value":-0.10},{"wavelength":8517,"value":-0.14},{"wavelength":8521,"value":-0.01},{"wavelength":8526,"value":0.27},{"wavelength":8531,"value":0.08},{"wavelength":8536,"value":0.25},{"wavelength":8540,"value":-0.01},{"wavelength":8545,"value":0.33},{"wavelength":8551,"value":0.06},{"wavelength":8556,"value":0.13},{"wavelength":8561,"value":-0.01},{"wavelength":8567,"value":-0.02},{"wavelength":8573,"value":-0.09},{"wavelength":8579,"value":-0.32},{"wavelength":8584,"value":-0.14},{"wavelength":8588,"value":-0.13},{"wavelength":8593,"value":-0.46},{"wavelength":8597,"value":-0.23},{"wavelength":8602,"value":0.05},{"wavelength":8607,"value":-0.23},{"wavelength":8611,"value":-0.09},{"wavelength":8616,"value":0.04},{"wavelength":8620,"value":0.15},{"wavelength":8624,"value":0.27},{"wavelength":8629,"value":-0.08},{"wavelength":8633,"value":0.06},{"wavelength":8638,"value":-0.30},{"wavelength":8642,"value":0.22},{"wavelength":8647,"value":-0.08},{"wavelength":8650,"value":0.60},{"wavelength":8654,"value":0.06},{"wavelength":8659,"value":0.24},{"wavelength":8663,"value":-0.03},{"wavelength":8667,"value":-0.49},{"wavelength":8671,"value":0.08},{"wavelength":8676,"value":-0.41},{"wavelength":8680,"value":-0.15},{"wavelength":8685,"value":-0.30},{"wavelength":8690,"value":-0.01},{"wavelength":8694,"value":0.04},{"wavelength":8699,"value":0.09},{"wavelength":8703,"value":-0.18},{"wavelength":8708,"value":0.06},{"wavelength":8712,"value":-0.25},{"wavelength":8717,"value":0.04},{"wavelength":8721,"value":-0.21},{"wavelength":8726,"value":0.03},{"wavelength":8730,"value":-0.32},{"wavelength":8735,"value":-0.23},{"wavelength":8739,"value":0.08},{"wavelength":8744,"value":-0.14},{"wavelength":8748,"value":-0.37},{"wavelength":8753,"value":-0.54},{"wavelength":8757,"value":-0.39},{"wavelength":8762,"value":-0.99},{"wavelength":8766,"value":-0.48},{"wavelength":8771,"value":-0.23},{"wavelength":8775,"value":-0.41},{"wavelength":8780,"value":-0.49},{"wavelength":8783,"value":-0.24},{"wavelength":8787,"value":0.79},{"wavelength":8792,"value":0.01},{"wavelength":8796,"value":-0.08},{"wavelength":8801,"value":-0.10},{"wavelength":8805,"value":-0.23},{"wavelength":8810,"value":-0.05},{"wavelength":8814,"value":-0.23},{"wavelength":8820,"value":-1.03},{"wavelength":8825,"value":-0.37},{"wavelength":8829,"value":-0.75},{"wavelength":8834,"value":-0.19},{"wavelength":8838,"value":-0.64},{"wavelength":8843,"value":-0.66},{"wavelength":8847,"value":-0.21},{"wavelength":8852,"value":-0.30},{"wavelength":8856,"value":0.13},{"wavelength":8861,"value":0.15},{"wavelength":8865,"value":0.42},{"wavelength":8870,"value":-0.14},{"wavelength":8874,"value":-0.23},{"wavelength":8879,"value":-0.57},{"wavelength":8883,"value":-0.14},{"wavelength":8888,"value":-0.20},{"wavelength":8892,"value":-0.17},{"wavelength":8897,"value":0.06},{"wavelength":8901,"value":0.15},{"wavelength":8906,"value":0.28},{"wavelength":8910,"value":0.17},{"wavelength":8913,"value":-0.84},{"wavelength":8918,"value":0.49},{"wavelength":8922,"value":-0.10},{"wavelength":8927,"value":0.17},{"wavelength":8931,"value":-0.14},{"wavelength":8936,"value":0.15},{"wavelength":8940,"value":0.91},{"wavelength":8945,"value":-0.14},{"wavelength":8949,"value":-0.79},{"wavelength":8954,"value":0.17},{"wavelength":8958,"value":-0.23},{"wavelength":8963,"value":0.10},{"wavelength":8967,"value":-0.17},{"wavelength":8972,"value":0.22},{"wavelength":8976,"value":-0.08},{"wavelength":8981,"value":-0.30},{"wavelength":8985,"value":-0.82},{"wavelength":8990,"value":0.29},{"wavelength":8994,"value":-0.59},{"wavelength":8999,"value":-0.30},{"wavelength":9003,"value":-0.12},{"wavelength":9008,"value":-0.06},{"wavelength":9012,"value":-0.09},{"wavelength":9017,"value":-0.05},{"wavelength":9021,"value":0.08},{"wavelength":9026,"value":0.09},{"wavelength":9030,"value":-0.09},{"wavelength":9035,"value":0.08},{"wavelength":9039,"value":0.10},{"wavelength":9045,"value":-0.51},{"wavelength":9049,"value":0.18},{"wavelength":9054,"value":-0.29},{"wavelength":9058,"value":-0.02},{"wavelength":9063,"value":-0.23},{"wavelength":9067,"value":-0.32},{"wavelength":9073,"value":0.22},{"wavelength":9078,"value":-0.23},{"wavelength":9082,"value":-0.51},{"wavelength":9087,"value":-0.10},{"wavelength":9091,"value":-0.21},{"wavelength":9096,"value":-0.93},{"wavelength":9100,"value":-0.21},{"wavelength":9105,"value":-0.05},{"wavelength":9109,"value":0.06},{"wavelength":9114,"value":0.15},{"wavelength":9118,"value":0.24},{"wavelength":9123,"value":-0.01},{"wavelength":9127,"value":-0.21},{"wavelength":9132,"value":-0.28},{"wavelength":9136,"value":-0.25},{"wavelength":9141,"value":-0.37},{"wavelength":9145,"value":-0.21},{"wavelength":9150,"value":-0.02},{"wavelength":9154,"value":-0.36},{"wavelength":9159,"value":-0.14},{"wavelength":9163,"value":-0.34},{"wavelength":9168,"value":-0.23},{"wavelength":9172,"value":-0.21},{"wavelength":9177,"value":-0.32},{"wavelength":9181,"value":-0.14},{"wavelength":9186,"value":-0.23},{"wavelength":9190,"value":-0.12},{"wavelength":9195,"value":0.10},{"wavelength":9199,"value":-0.36},{"wavelength":9204,"value":-0.08},{"wavelength":9208,"value":-0.34},{"wavelength":9213,"value":-0.14},{"wavelength":9217,"value":0.22},{"wavelength":9222,"value":-0.40},{"wavelength":9226,"value":-0.14},{"wavelength":9231,"value":-0.22},{"wavelength":9235,"value":0.08},{"wavelength":9240,"value":-0.13},{"wavelength":9244,"value":0.29},{"wavelength":9249,"value":-0.21},{"wavelength":9253,"value":0.13},{"wavelength":9258,"value":-0.14},{"wavelength":9262,"value":0.01},{"wavelength":9267,"value":-0.10},{"wavelength":9271,"value":0.04},{"wavelength":9276,"value":-0.36},{"wavelength":9282,"value":-0.14},{"wavelength":9286,"value":0.52},{"wavelength":9291,"value":-0.08},{"wavelength":9295,"value":0.53},{"wavelength":9299,"value":0.44}
    ]
  },
  "encoding": {
    "x": {"field": "wavelength", "type": "quantitative", "scale": {"domain": [4750.5, 9299], "nice": false, "zero": false}, "axis": {"values": [5000, 6000, 7000, 8000, 9000], "format": "d", "labelFontSize": 29, "labelPadding": 12, "labelFlush": false, "title": "Wavelength", "titleFontSize": 33, "titlePadding": 4}},
    "y": {"field": "value", "type": "quantitative", "scale": {"domain": [-1.46, 1.97], "nice": false, "zero": false}, "axis": {"values": [-1, -0.5, 0, 0.5, 1, 1.5], "format": ".1f", "labelFontSize": 38, "labelPadding": 14, "title": "10⁻¹⁸ erg s⁻¹ cm⁻² Å⁻¹", "titleFontSize": 46, "titlePadding": 18}}
  },
  "layer": [
    {"data": {"name": "model"}, "mark": {"type": "line", "color": "#0000ff", "strokeWidth": 6, "clip": true}, "encoding": {}},
    {"data": {"name": "noise"}, "mark": {"type": "line", "color": "#008000", "strokeWidth": 1.4, "clip": true}, "encoding": {}},
    {"data": {"name": "flux"}, "mark": {"type": "line", "color": "black", "strokeWidth": 4.5, "clip": true}, "encoding": {}}
  ]
}
